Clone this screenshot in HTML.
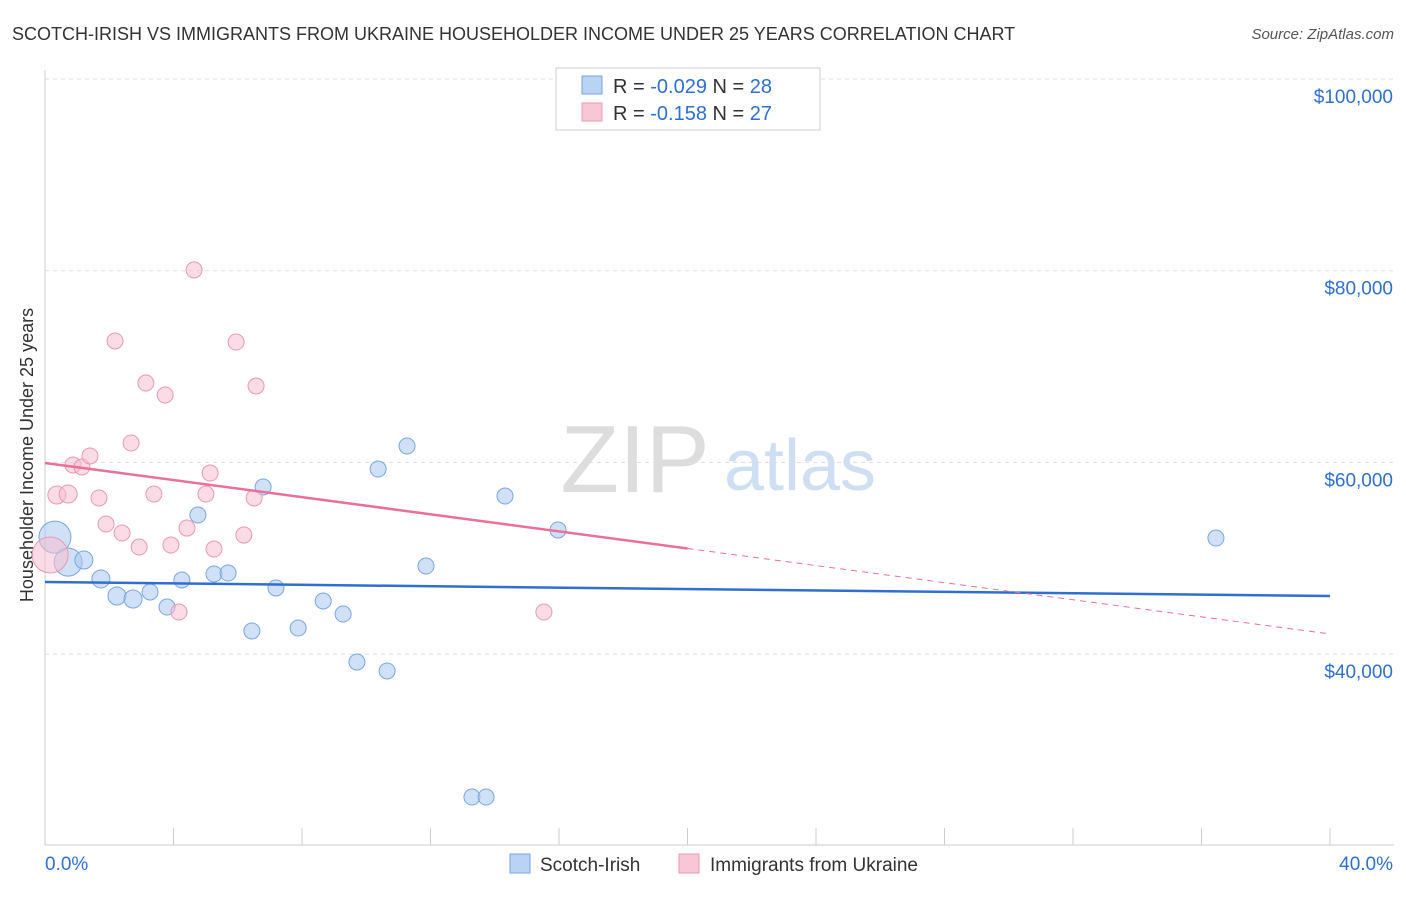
<!DOCTYPE html>
<html><head><meta charset="utf-8"><style>
body{margin:0;background:#fff;font-family:"Liberation Sans",sans-serif;}
svg text{font-family:"Liberation Sans",sans-serif;}
</style></head><body>
<svg id="chart" width="1406" height="892" xmlns="http://www.w3.org/2000/svg">
<text x="12" y="40" font-size="18" fill="#333">SCOTCH-IRISH VS IMMIGRANTS FROM UKRAINE HOUSEHOLDER INCOME UNDER 25 YEARS CORRELATION CHART</text>
<text x="1394" y="39" font-size="15" fill="#555" font-style="italic" text-anchor="end">Source: ZipAtlas.com</text>
<text x="635" y="492" font-size="96" fill="#ddd" font-family="Liberation Serif" text-anchor="middle">ZIP</text>
<text x="800" y="490" font-size="72" fill="#cfdff3" text-anchor="middle">atlas</text>
<text transform="translate(33,455) rotate(-90)" font-size="18" fill="#333" text-anchor="middle">Householder Income Under 25 years</text>
<g id="grid"></g><g id="marks"></g>
<g>
<rect x="556" y="68" width="264" height="62" fill="#fff" stroke="#ccc"/>
<rect x="582" y="76" width="20" height="18" fill="#b9d3f5" stroke="#7aa6e0"/>
<rect x="582" y="103" width="20" height="18" fill="#f8c6d4" stroke="#e99ab2"/>
<text x="613" y="93" font-size="20" fill="#333">R = <tspan fill="#2f6fd0">-0.029</tspan>   N = <tspan fill="#2f6fd0">28</tspan></text>
<text x="613" y="120" font-size="20" fill="#333">R =  <tspan fill="#2f6fd0">-0.158</tspan>   N = <tspan fill="#2f6fd0">27</tspan></text>
</g>
<g>
<rect x="510" y="854" width="20" height="19" fill="#b9d3f5" stroke="#7aa6e0"/>
<text x="540" y="871" font-size="19" fill="#333">Scotch-Irish</text>
<rect x="679" y="854" width="20" height="19" fill="#f8c6d4" stroke="#e99ab2"/>
<text x="710" y="871" font-size="19" fill="#333">Immigrants from Ukraine</text>
</g>
<text x="45" y="870" font-size="19" fill="#2f6fd0">0.0%</text>
<text x="1393" y="870" font-size="19" fill="#2f6fd0" text-anchor="end">40.0%</text>
</svg>
<script>
const yTicks=[40000,60000,80000,100000];
const yTickLabels=["$40,000","$60,000","$80,000","$100,000"];
const xTicks=[0,4,8,12,16,20,24,28,32,36,40];
const blueX=[0.31,0.72,1.21,1.74,2.24,2.74,3.27,3.80,4.26,4.76,5.26,5.70,6.44,6.79,7.19,7.88,8.66,9.28,9.71,10.37,10.65,11.27,11.86,13.29,13.73,14.32,15.97,36.45];
const blueY=[52200,49600,49820,47840,46060,45750,46480,44910,47730,54510,48360,48460,42410,57430,46900,42720,45540,44180,39170,59310,38240,61710,49190,25090,25090,56490,52950,52110];
const blueR=[16,14,9,9,9,9,8,8,8,8,8,8,8,8,8,8,8,8,8,8,8,8,8,8,8,8,8,8];
const pinkX=[0.16,0.37,0.72,0.87,1.15,1.40,1.68,1.90,2.18,2.40,2.68,2.93,3.14,3.39,3.74,3.92,4.17,4.42,4.64,5.01,5.14,5.26,5.95,6.19,6.51,6.57,15.53];
const pinkY=[50340,56600,56700,59730,59520,60670,56290,53570,72670,52630,62020,51170,68280,56700,67030,51380,44390,53150,80080,56700,58890,50960,72560,52420,56290,67970,44390];
const pinkR=[18,9,9,8,8,8,8,8,8,8,8,8,8,8,8,8,8,8,8,8,8,8,8,8,8,8,8];
const blueTrend=[47520,46060];
const pinkTrend=[59940,42100];
const NS="http://www.w3.org/2000/svg";
const X=v=>45+v/40*1285;
const Y=v=>79+(100000-v)/20000*191.7;
function mk(tag,attrs,parent){const e=document.createElementNS(NS,tag);for(const k in attrs)e.setAttribute(k,attrs[k]);parent.appendChild(e);return e;}
const grid=document.getElementById('grid'),marks=document.getElementById('marks');
mk('line',{x1:45,y1:70,x2:45,y2:845,stroke:'#ccc'},grid);
mk('line',{x1:45,y1:845,x2:1394,y2:845,stroke:'#ccc'},grid);
yTicks.forEach((t,i)=>{
 const g=mk('line',{x1:45,y1:Y(t),x2:1394,y2:Y(t),stroke:'#ddd','stroke-dasharray':'4,4'},grid);
 
 
 const l=mk('text',{x:1393,y:Y(t)+24,'font-size':19,fill:'#2f6fd0','text-anchor':'end'},grid);
 l.textContent=yTickLabels[i];
 
 
});
xTicks.forEach(t=>{
 const k=mk('line',{x1:X(t),y1:828,x2:X(t),y2:845,stroke:'#ccc'},grid);
 
 
});
blueX.forEach((v,i)=>{
 const c=mk('circle',{cx:X(v),cy:Y(blueY[i]),r:blueR[i],fill:'rgba(170,200,240,0.55)',stroke:'#7aa6e0','stroke-width':1},marks);
 
 
});
pinkX.forEach((v,i)=>{
 const c=mk('circle',{cx:X(v),cy:Y(pinkY[i]),r:pinkR[i],fill:'rgba(248,190,208,0.55)',stroke:'#e99ab2','stroke-width':1},marks);
 
 
});
const bt=mk('line',{x1:X(0),y1:Y(blueTrend[0]),x2:X(40),y2:Y(blueTrend[1]),stroke:'#2f6fd0','stroke-width':2.5},marks);


const pm=pinkTrend[0]+(pinkTrend[1]-pinkTrend[0])*0.5;
const pt=mk('line',{x1:X(0),y1:Y(pinkTrend[0]),x2:X(20),y2:Y(pm),stroke:'#e8709a','stroke-width':2.5},marks);


const pd=mk('line',{x1:X(20),y1:Y(pm),x2:X(40),y2:Y(pinkTrend[1]),stroke:'#e8709a','stroke-width':1,'stroke-dasharray':'6,5'},marks);


</script>
</body></html>
